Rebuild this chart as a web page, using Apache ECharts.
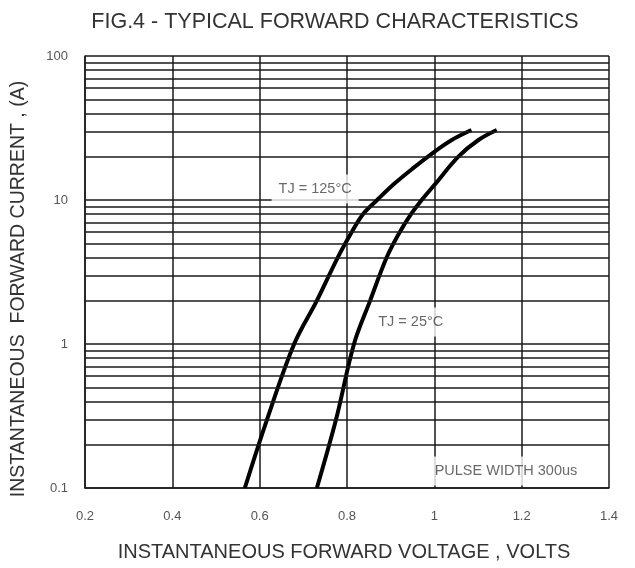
<!DOCTYPE html>
<html>
<head>
<meta charset="utf-8">
<script src="https://cdn.jsdelivr.net/npm/echarts@6/dist/echarts.min.js"></script>
<style>
html,body{margin:0;padding:0;background:#fff;overflow:hidden;}
#chart{width:635px;height:568px;}
</style>
</head>
<body>
<div id="chart"></div>
<script>
// Tick values
var xTicks = [0.2, 0.4, 0.6, 0.8, 1, 1.2, 1.4];
var yMajorTicks = [0.1, 1, 10, 100];
var yMinorTicks = [0.2,0.3,0.4,0.5,0.6,0.7,0.8,0.9, 2,3,4,5,6,7,8,9, 20,30,40,50,60,70,80,90];

// TJ = 125°C curve
var v125 = [0.566, 0.617, 0.679, 0.731, 0.779, 0.811, 0.837, 0.869, 0.910, 0.950, 1.000, 1.040, 1.085];
var i125 = [0.1,   0.3,   1,     2,     4,     6,     8,     10,    13.1,  16.5,  21.6,  26.1,  30.6];

// TJ = 25°C curve
var v25 = [0.731, 0.775, 0.816, 0.853, 0.891, 0.921, 0.947, 0.971, 1.000, 1.055, 1.101, 1.143];
var i25 = [0.1,   0.3,   1,     2,     4,     6,     8,     10,    12.7,  20,    26.1,  30.6];

// Annotations [x, y, text]
var annotations = [
  [0.727, 11.9, 'TJ = 125°C'],
  [0.946, 1.42, 'TJ = 25°C'],
  [1.164, 0.131, 'PULSE WIDTH 300us']
];

function pairs(xs, ys){ return xs.map(function(x,i){ return [x, ys[i]]; }); }

var FONT = 'Liberation Sans, Arial, sans-serif';
var chart = echarts.init(document.getElementById('chart'));
var gridColor = '#1a1a1a';
chart.setOption({
  backgroundColor: '#fff',
  animation: false,
  title: {
    text: 'FIG.4 - TYPICAL FORWARD CHARACTERISTICS',
    left: 330, top: 6, textAlign: 'center',
    textStyle: {fontFamily: FONT, fontSize: 21.5, fontWeight: 'normal', color: '#333'}
  },
  grid: {left: 85, width: 524, top: 56, height: 432},
  xAxis: {
    type: 'value', min: 0.2, max: 1.4, interval: 0.2,
    name: 'INSTANTANEOUS FORWARD VOLTAGE , VOLTS',
    nameLocation: 'middle', nameGap: 54,
    nameTextStyle: {fontFamily: FONT, fontSize: 20, color: '#333', padding: [0, 6, 0, 0]},
    axisLine: {lineStyle: {color: gridColor, width: 1.5}},
    axisTick: {show: false},
    axisLabel: {margin: 22, fontFamily: FONT, fontSize: 13, color: '#555',
      formatter: function(v){ var r = Math.round(v*10)/10; return xTicks.indexOf(r) >= 0 ? String(r) : ''; }},
    splitLine: {show: true, lineStyle: {color: gridColor, width: 1.5}}
  },
  yAxis: {
    type: 'log', logBase: 10, min: 0.1, max: 100,
    name: 'INSTANTANEOUS  FORWARD CURRENT , (A)',
    nameLocation: 'middle', nameGap: 56,
    nameTextStyle: {fontFamily: FONT, fontSize: 19.5, color: '#333', padding: [0, 0, 0, -34]},
    axisLine: {lineStyle: {color: gridColor, width: 1.5}},
    axisTick: {show: false},
    axisLabel: {margin: 17, fontFamily: FONT, fontSize: 13, color: '#555',
      formatter: function(v){ return String(v); }},
    splitLine: {show: true, lineStyle: {color: gridColor, width: 1.5}}
  },
  series: [
    {
      type: 'line', name: 'grid', data: [], z: 1, silent: true,
      markLine: {
        silent: true, symbol: 'none', animation: false,
        label: {show: false},
        lineStyle: {color: gridColor, width: 1.5, type: 'solid'},
        data: yMinorTicks.map(function(v){ return {yAxis: v}; })
      }
    },
    {
      type: 'line', name: 'TJ = 125°C', data: pairs(v125, i125), smooth: 0.35, showSymbol: false, z: 3,
      lineStyle: {color: '#000', width: 4}
    },
    {
      type: 'line', name: 'TJ = 25°C', data: pairs(v25, i25), smooth: 0.35, showSymbol: false, z: 3,
      lineStyle: {color: '#000', width: 4}
    },
    {
      type: 'scatter', name: 'notes', z: 5, silent: true,
      symbol: 'rect', symbolSize: 1,
      itemStyle: {color: 'rgba(0,0,0,0)'},
      data: annotations.map(function(a){ return {value: [a[0], a[1]], label: {formatter: a[2]}}; }),
      label: {show: true, position: 'inside', backgroundColor: '#fff', padding: [7, 7],
        fontFamily: FONT, fontSize: 14.5, color: '#444'}
    }
  ]
});
</script>
</body>
</html>
